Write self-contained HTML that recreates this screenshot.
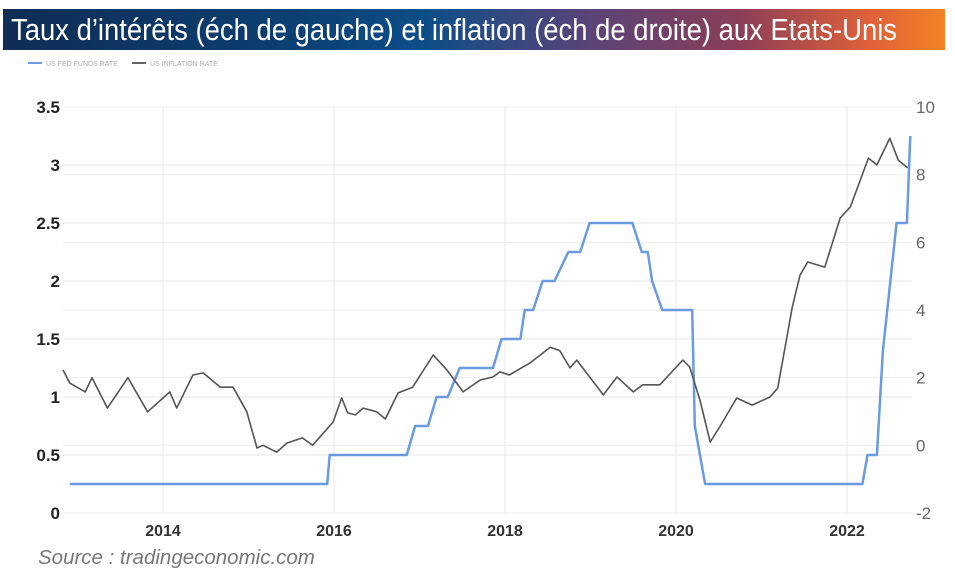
<!DOCTYPE html>
<html><head><meta charset="utf-8"><style>
body{margin:0;background:#fff;width:955px;height:574px;overflow:hidden;font-family:"Liberation Sans",sans-serif}
#banner{position:absolute;left:3px;top:9px;width:942px;height:41px;background:linear-gradient(90deg,#0f2d55 0%,#0c3f72 30%,#0d4e88 45%,#5a4478 62%,#8a3e58 78%,#e0603a 92%,#f28224 100%);color:#fff;font-size:31px;line-height:41px;padding-left:8px;box-sizing:border-box;white-space:nowrap;overflow:hidden}
#banner span{display:inline-block;transform:scaleX(0.885);transform-origin:0 50%}
#src{position:absolute;left:38px;top:546px;font-style:italic;color:#777;font-size:20.5px}
svg{position:absolute;left:0;top:0}
</style></head><body>
<div id="banner"><span>Taux d’intérêts (éch de gauche) et inflation (éch de droite) aux Etats-Unis</span></div>
<svg id="chart" width="955" height="574"></svg>
<div id="src">Source : tradingeconomic.com</div>
<script>
const xTicks=[2014,2016,2018,2020,2022];
const leftTicks=[0,0.5,1,1.5,2,2.5,3,3.5];
const leftTickLabels=["0","0.5","1","1.5","2","2.5","3","3.5"];
const rightTicks=[-2,0,2,4,6,8,10];
const fedDates=[2012.91,2015.92,2015.95,2016.85,2016.95,2017.1,2017.2,2017.33,2017.47,2017.86,2017.96,2018.18,2018.23,2018.33,2018.44,2018.58,2018.74,2018.88,2018.99,2019.49,2019.6,2019.67,2019.72,2019.84,2020.19,2020.22,2020.34,2022.18,2022.24,2022.35,2022.42,2022.58,2022.7,2022.74];
const fedValues=[0.25,0.25,0.5,0.5,0.75,0.75,1.0,1.0,1.25,1.25,1.5,1.5,1.75,1.75,2.0,2.0,2.25,2.25,2.5,2.5,2.25,2.25,2.0,1.75,1.75,0.75,0.25,0.25,0.5,0.5,1.4,2.5,2.5,3.25];
const infDates=[2012.83,2012.91,2013.09,2013.17,2013.35,2013.59,2013.82,2014.08,2014.16,2014.35,2014.47,2014.67,2014.82,2014.98,2015.10,2015.17,2015.33,2015.45,2015.63,2015.75,2015.99,2016.09,2016.16,2016.25,2016.34,2016.50,2016.60,2016.75,2016.92,2017.16,2017.32,2017.51,2017.71,2017.86,2017.94,2018.05,2018.29,2018.53,2018.64,2018.76,2018.84,2019.15,2019.31,2019.50,2019.61,2019.81,2020.08,2020.16,2020.28,2020.40,2020.51,2020.71,2020.89,2021.10,2021.19,2021.36,2021.45,2021.54,2021.74,2021.92,2022.04,2022.25,2022.35,2022.50,2022.60,2022.71];
const infValues=[2.23,1.84,1.58,2.0,1.1,2.0,0.99,1.58,1.1,2.08,2.14,1.72,1.72,0.99,-0.08,0.0,-0.2,0.07,0.22,0.0,0.69,1.4,0.96,0.9,1.1,0.99,0.78,1.55,1.72,2.67,2.23,1.58,1.93,2.02,2.17,2.08,2.43,2.9,2.8,2.29,2.52,1.49,2.02,1.58,1.79,1.79,2.52,2.32,1.34,0.1,0.54,1.4,1.19,1.43,1.69,4.09,5.03,5.42,5.27,6.72,7.05,8.49,8.29,9.08,8.43,8.2];

const NS="http://www.w3.org/2000/svg";
const svg=document.getElementById('chart');
const xS=t=>163+(t-2014)*85.5;
const yL=v=>513-v*116;
const yR=v=>513-(v+2)*33.83;
function mk(tag,attrs){const e=document.createElementNS(NS,tag);for(const k in attrs)e.setAttribute(k,attrs[k]);svg.appendChild(e);return e;}
let e=mk('line',{x1:28,y1:63,x2:42,y2:63,stroke:'#6a9be0','stroke-width':2});

e=mk('text',{x:46,y:66,'font-size':7,fill:'#aaa'});e.textContent='US FED FUNDS RATE';

e=mk('line',{x1:132,y1:63,x2:146,y2:63,stroke:'#666','stroke-width':2});

e=mk('text',{x:150,y:66,'font-size':7,fill:'#aaa'});e.textContent='US INFLATION RATE';

leftTicks.forEach((v,i)=>{
 let g=mk('line',{x1:63,x2:912,y1:yL(v),y2:yL(v),stroke:'#e6e6e6','stroke-width':1});
 
 let t=mk('text',{x:60,y:yL(v)+6,'text-anchor':'end','font-size':17,fill:'#222','font-weight':'bold'});
 t.textContent=leftTickLabels[i];
 
});
rightTicks.forEach(v=>{
 let g=mk('line',{x1:63,x2:912,y1:yR(v),y2:yR(v),stroke:'#eeeeee','stroke-width':1});
 
 let t=mk('text',{x:916,y:yR(v)+6,'font-size':17,fill:'#666'});
 t.textContent=String(v);
 
});
xTicks.forEach(v=>{
 let g=mk('line',{x1:xS(v),x2:xS(v),y1:107,y2:513,stroke:'#e8e8e8','stroke-width':1});
 
 let t=mk('text',{x:xS(v),y:536,'text-anchor':'middle','font-size':16,fill:'#333','font-weight':'bold'});
 t.textContent=String(v);
 
});
let d=fedDates.map((t,i)=>(i?'L':'M')+xS(t).toFixed(1)+','+yL(fedValues[i]).toFixed(1)).join('');
e=mk('path',{d:d,fill:'none',stroke:'#6a9be0','stroke-width':2.5,'stroke-linejoin':'round'});

d=infDates.map((t,i)=>(i?'L':'M')+xS(t).toFixed(1)+','+yR(infValues[i]).toFixed(1)).join('');
e=mk('path',{d:d,fill:'none',stroke:'#555','stroke-width':1.6,'stroke-linejoin':'round'});

</script>
</body></html>
